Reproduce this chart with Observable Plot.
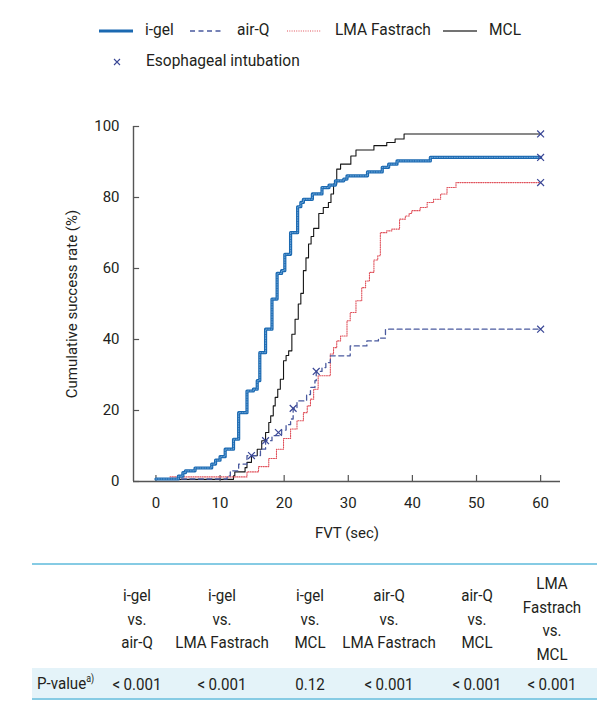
<!DOCTYPE html>
<html><head><meta charset="utf-8">
<script src="https://cdn.jsdelivr.net/npm/d3@7"></script>
<script src="https://cdn.jsdelivr.net/npm/@observablehq/plot@0.6"></script>
<style>
body{margin:0;background:#fff;font-family:Roboto,"Noto Sans",sans-serif;color:#231f20;}
#wrap{position:relative;width:604px;height:709px;overflow:hidden;}
#legend{position:absolute;left:0;top:0;width:604px;height:85px;font-size:16.5px;}
.lg{position:absolute;white-space:nowrap;line-height:18px;transform:scaleX(0.94);transform-origin:left center;}
#chart{position:absolute;left:0;top:85px;}
#table{position:absolute;left:0;top:0;width:604px;height:709px;pointer-events:none;font-size:17px;}
.hline{position:absolute;left:32px;width:565px;height:2px;background:#86cbe4;}
.pbg{position:absolute;left:32px;width:565px;background:#e4f3f9;}
.col{position:absolute;transform:translate(-50%,-50%) scaleX(0.89);text-align:center;line-height:23.5px;white-space:nowrap;}
.cell{position:absolute;transform:translate(-50%,-50%) scaleX(0.89);white-space:nowrap;}
</style></head><body>
<div id="wrap"><div id="legend"></div><div id="chart"></div><div id="table"></div></div>
<script>
// ---------- data ----------
const seriesNames = ["i-gel", "air-Q", "LMA Fastrach", "MCL"];
const igelT = [0,3.5,4.2,4.6,6.1,8.7,9.3,10,10.8,12.1,12.9,14.2,15.2,15.8,16.2,17.1,18.1,18.9,19.6,20.1,21,22.1,22.6,23,24.4,25.9,27,28,29.3,29.8,33,35.3,36.3,37.6,42.8,60];
const igelV = [0.7,1.5,2.5,3,3.8,4.9,6,7,9.1,11.9,19.4,25.5,26,28.4,36.3,42.9,51.4,58.6,59.4,64,70.1,77.4,78.6,79.5,81,82.8,83.5,84.7,85.2,86.1,87.2,88.5,89.4,90.3,91.3,91.3];
const airqT = [0,11.1,11.6,12.9,14.2,16.3,17.1,18.1,19.6,20.3,21,21.4,22,23.5,24.1,24.8,25,25.9,26.5,27.2,30.3,32.9,34.7,35.8,60];
const airqV = [0.7,1.6,3,4.9,7.3,9.1,11.5,12.9,14.5,16,17.6,20.6,22.7,24.5,26.5,28.4,31,32.1,33.5,35.4,38.2,39.6,40.4,42.9,42.9];
const lmaT = [2.2,14.2,16,17.6,18.8,19.9,21,22,23,23.6,24.1,24.6,25.3,27.2,27.7,28.2,28.8,29.8,30.3,31.2,32.1,32.7,33.3,34,34.6,35,36,36.8,38,38.9,39.5,39.9,41.2,42.3,43.3,44.4,45.4,46.8,60];
const lmaV = [1.3,2.7,4.2,6.5,9.1,12.1,14.8,17.1,19.4,21.3,23.2,26,29.8,35.9,37.7,39.6,41,45.3,47.6,50.9,54.6,56.5,58.9,62.4,63.6,70.1,70.6,71.1,73.9,74.8,75.5,76.3,77.2,78.6,79.5,81,82.8,84.2,84.2];
const mclT = [0,12.1,12.3,13.9,14.2,14.9,15.8,16.5,17.1,17.6,17.9,18.3,18.6,19,19.4,19.9,20.3,20.7,21.2,21.7,22.2,22.6,23,23.4,23.8,24.2,24.6,25.4,26.1,26.9,27.3,27.7,28.2,28.8,30.4,31.2,34,36,37.3,38.7,60];
const mclV = [0.6,1.6,2.7,3.9,5.4,7.3,9.1,11.5,13.8,16.6,18.5,21.3,23.7,26,28.8,34,35.5,36.8,41.5,45.7,50,53,59.4,63,66.9,69,71.3,75.5,77.2,78.6,81,83.8,88,89.4,91.7,93.4,94.6,95.5,96.5,97.9,97.9];
// esophageal intubation marks
const escT = [14.9,17.1,19.1,21.4,25,60,60,60,60];
const escV = [7.3,11.5,13.8,20.6,31,97.9,91.3,84.2,42.9];
const xTicks = [0,10,20,30,40,50,60];
const yTicks = [0,20,40,60,80,100];
const comparisons = [["i-gel","vs.","air-Q"],["i-gel","vs.","LMA Fastrach"],["i-gel","vs.","MCL"],["air-Q","vs.","LMA Fastrach"],["air-Q","vs.","MCL"],["LMA","Fastrach","vs.","MCL"]];
const pValues = ["< 0.001","< 0.001","0.12","< 0.001","< 0.001","< 0.001"];
const pLabel = "P-value";

// ---------- styles ----------
const C_IGEL = "#1b69b1", C_AIRQ = "#4a5a9f", C_LMA = "#e0505a", C_MCL = "#151515", C_MARK = "#3a4796";
const toRows = (T, V, s) => T.map((t, i) => ({t, v: V[i], s}));
const igel = toRows(igelT, igelV, seriesNames[0]);
const airq = toRows(airqT, airqV, seriesNames[1]);
const lma = toRows(lmaT, lmaV, seriesNames[2]);
const mcl = toRows(mclT, mclV, seriesNames[3]);
const esc = escT.map((t, i) => ({t, v: escV[i]}));

const X0 = -3.5, X1 = 63.1;
const chart = Plot.plot({
  width: 604, height: 465,
  marginLeft: 133, marginRight: 44, marginTop: 41, marginBottom: 69,
  x: {domain: [X0, X1]},
  y: {domain: [0, 100]},
  style: {fontFamily: "Roboto, 'Noto Sans', sans-serif", fontSize: "15px", color: "#231f20", background: "#fff", overflow: "visible"},
  marks: [
    Plot.axisX({ticks: xTicks, tickSize: 0, tickPadding: 16, tickFormat: d => d, label: "FVT (sec)", labelAnchor: "center", labelArrow: "none", labelOffset: 56}),
    Plot.axisY({ticks: yTicks, tickSize: 0, tickPadding: 14, tickFormat: d => d, label: "Cumulative success rate (%)", labelAnchor: "center", labelArrow: "none", labelOffset: 67}),
    Plot.ruleY([0], {x1: X0, x2: X1, stroke: "#555", strokeWidth: 1.4}),
    Plot.ruleX([X0], {y1: 0, y2: 100, stroke: "#555", strokeWidth: 1.4}),
    Plot.ruleX(xTicks, {y1: 0, y2: 1.7, stroke: "#555", strokeWidth: 1.2}),
    Plot.ruleY(yTicks, {x1: X0, x2: X0 + 0.95, stroke: "#555", strokeWidth: 1.2}),
    Plot.line(mcl, {x: "t", y: "v", curve: "step-after", stroke: C_MCL, strokeWidth: 1.1}),
    Plot.line(lma, {x: "t", y: "v", curve: "step-after", stroke: C_LMA, strokeWidth: 1.1, strokeDasharray: "1 1.3"}),
    Plot.line(airq, {x: "t", y: "v", curve: "step-after", stroke: C_AIRQ, strokeWidth: 1.3, strokeDasharray: "5 3.5"}),
    Plot.line(igel, {x: "t", y: "v", curve: "step-after", stroke: C_IGEL, strokeWidth: 3.2}),
    Plot.line(igel, {x: "t", y: "v", curve: "step-after", stroke: "#7fb4e2", strokeWidth: 1, strokeDasharray: "1 1.5", strokeOpacity: 0.8}),
    Plot.dot(esc, {x: "t", y: "v", symbol: "times", r: 3.2, stroke: C_MARK, strokeWidth: 1.2})
  ]
});
document.getElementById("chart").appendChild(chart);

// ---------- legend ----------
const legend = document.getElementById("legend");
const legendItems = [
  {name: seriesNames[0], stroke: C_IGEL, w: 3.2, dash: null, sx: 99, tx: 145, y: 31},
  {name: seriesNames[1], stroke: C_AIRQ, w: 1.4, dash: "5 3.5", sx: 190, tx: 237, y: 31},
  {name: seriesNames[2], stroke: C_LMA, w: 1.1, dash: "1 1.3", sx: 287, tx: 335, y: 31},
  {name: seriesNames[3], stroke: "#444", w: 1.3, dash: null, sx: 443, tx: 489, y: 31},
];
legendItems.forEach(it => {
  const sw = document.createElementNS("http://www.w3.org/2000/svg", "svg");
  sw.setAttribute("width", 34); sw.setAttribute("height", 8);
  sw.style.position = "absolute"; sw.style.left = it.sx + "px"; sw.style.top = (it.y - 4) + "px";
  const ln = document.createElementNS("http://www.w3.org/2000/svg", "line");
  ln.setAttribute("x1", 0); ln.setAttribute("x2", 34); ln.setAttribute("y1", 4); ln.setAttribute("y2", 4);
  ln.setAttribute("stroke", it.stroke); ln.setAttribute("stroke-width", it.w);
  if (it.dash) ln.setAttribute("stroke-dasharray", it.dash);
  sw.appendChild(ln);
  legend.appendChild(sw);
  const tx = document.createElement("div");
  tx.className = "lg"; tx.textContent = it.name;
  tx.style.left = it.tx + "px"; tx.style.top = (it.y - 10) + "px";
  legend.appendChild(tx);
});
{
  const sw = document.createElementNS("http://www.w3.org/2000/svg", "svg");
  sw.setAttribute("width", 10); sw.setAttribute("height", 10);
  sw.style.position = "absolute"; sw.style.left = "112px"; sw.style.top = "57px";
  sw.innerHTML = '<path d="M2,2L8,8M8,2L2,8" stroke="' + C_MARK + '" stroke-width="1.1"/>';
  legend.appendChild(sw);
  const tx = document.createElement("div");
  tx.className = "lg"; tx.textContent = "Esophageal intubation";
  tx.style.left = "146px"; tx.style.top = "52px";
  legend.appendChild(tx);
}

// ---------- table ----------
const table = document.getElementById("table");
const colCenters = [137, 221.5, 310, 389, 477, 552];
let html = '<div class="pbg" style="top:668px;height:31px"></div>';
html += '<div class="hline" style="top:563px"></div>';
html += '<div class="hline" style="top:698px"></div>';
comparisons.forEach((lines, i) => {
  html += '<div class="col" style="left:' + colCenters[i] + 'px;top:619px">' + lines.join("<br>") + '</div>';
  html += '<div class="cell" style="left:' + colCenters[i] + 'px;top:684px">' + pValues[i].replace(" ", "\u2009") + '</div>';
});
html += '<div style="position:absolute;left:37px;top:673px;white-space:nowrap;transform:scaleX(0.89);transform-origin:left center;">' + pLabel + '<sup style="font-size:10px;vertical-align:7px;">a)</sup></div>';
table.innerHTML = html;
</script>
</body></html>
